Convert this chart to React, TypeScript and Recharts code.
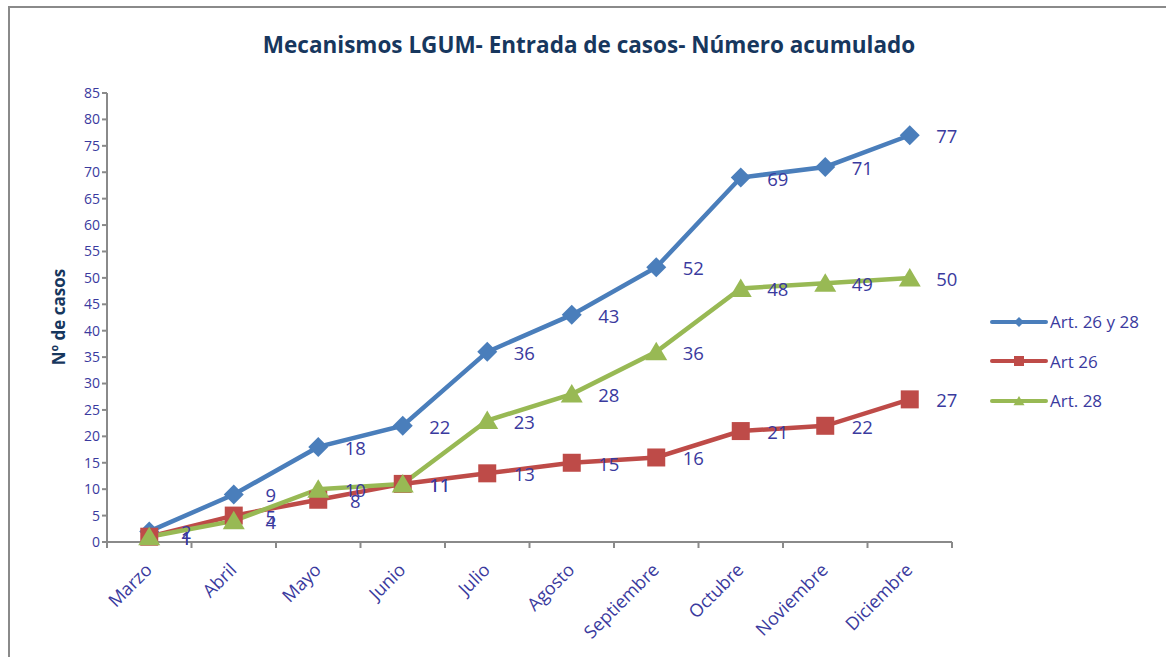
import React from 'react';
import {
  LineChart,
  Line,
  XAxis,
  YAxis,
  LabelList,
} from 'recharts';

const months = [
  'Marzo', 'Abril', 'Mayo', 'Junio', 'Julio', 'Agosto',
  'Septiembre', 'Octubre', 'Noviembre', 'Diciembre',
];
const art2628 = [2, 9, 18, 22, 36, 43, 52, 69, 71, 77];
const art26 = [1, 5, 8, 11, 13, 15, 16, 21, 22, 27];
const art28 = [1, 4, 10, 11, 23, 28, 36, 48, 49, 50];
const yTicks = [0, 5, 10, 15, 20, 25, 30, 35, 40, 45, 50, 55, 60, 65, 70, 75, 80, 85];

const data = months.map((m, i) => ({
  month: m,
  both: art2628[i],
  a26: art26[i],
  a28: art28[i],
}));

const BLUE = '#4a7ebb';
const RED = '#be4b48';
const GREEN = '#98b954';
const TEXT = '#3a3a9e';
const NAVY = '#17375e';
const AXIS = '#8a8a8a';
const FONT = '"Open Sans", sans-serif';

const W = 1166;
const H = 657;
const M = { top: 93, right: 214, left: 47, bottom: 0 };
const X_H = 115;
const Y_W = 60;
const BAND = (W - M.left - Y_W - M.right) / months.length;

function marker(kind: string, cx: number, cy: number, s: number, color: string, key?: any) {
  if (kind === 'diamond') {
    return (
      <path key={key} d={`M${cx} ${cy - s}L${cx + s} ${cy}L${cx} ${cy + s}L${cx - s} ${cy}Z`} fill={color} />
    );
  }
  if (kind === 'square') {
    return <rect key={key} x={cx - s} y={cy - s} width={s * 2} height={s * 2} fill={color} />;
  }
  return (
    <path key={key} d={`M${cx} ${cy - s}L${cx + s * 1.1} ${cy + s * 0.85}L${cx - s * 1.1} ${cy + s * 0.85}Z`} fill={color} />
  );
}

const makeDot = (kind: string, color: string, s: number) => (p: any) =>
  marker(kind, p.cx, p.cy, s, color, `${kind}-${p.index}`);

function ValueLabel(p: any) {
  return (
    <text x={p.x + 37} y={p.y + 8} textAnchor="middle" fill={TEXT} fontSize={18.5} fontFamily={FONT}>
      {p.value}
    </text>
  );
}

function MonthTick({ x, y, payload, index }: any) {
  const top = y - 8;
  const ax = x + 4;
  const ay = top + 29;
  return (
    <g>
      <line x1={x - BAND / 2} y1={top} x2={x - BAND / 2} y2={top + 6} stroke={AXIS} strokeWidth={2} />
      {index === months.length - 1 && (
        <line x1={x + BAND / 2} y1={top} x2={x + BAND / 2} y2={top + 6} stroke={AXIS} strokeWidth={2} />
      )}
      <text
        x={ax}
        y={ay}
        textAnchor="end"
        fill={TEXT}
        fontSize={18}
        fontFamily={FONT}
        transform={`rotate(-45 ${ax} ${ay})`}
      >
        {payload.value}
      </text>
    </g>
  );
}

const legendItems = [
  { name: 'Art. 26 y 28', color: BLUE, kind: 'diamond', s: 5 },
  { name: 'Art 26', color: RED, kind: 'square', s: 5 },
  { name: 'Art. 28', color: GREEN, kind: 'triangle', s: 5 },
];

function LegendBox() {
  return (
    <div style={{ position: 'absolute', left: 990, top: 302, width: 176 }}>
      {legendItems.map((it) => (
        <div key={it.name} style={{ display: 'flex', alignItems: 'center', height: 39.5 }}>
          <svg width={58} height={14}>
            <line x1={2} y1={7} x2={56} y2={7} stroke={it.color} strokeWidth={4} strokeLinecap="round" />
            {marker(it.kind, 29, 7, it.s, it.color)}
          </svg>
          <span style={{ color: TEXT, fontSize: 17, fontFamily: FONT, marginLeft: 2 }}>{it.name}</span>
        </div>
      ))}
    </div>
  );
}

export default function App() {
  return (
    <div style={{ position: 'absolute', left: 0, top: 0, width: W, height: H, overflow: 'hidden', background: '#fff' }}>
      <div
        style={{
          position: 'absolute', left: 8, top: 6, width: W, height: H,
          borderLeft: `2px solid ${AXIS}`, borderTop: `2px solid ${AXIS}`,
        }}
      />
      <div
        style={{
          position: 'absolute', left: 0, width: 1178, top: 29, textAlign: 'center',
          fontFamily: FONT, fontWeight: 700, fontSize: 22.5, color: NAVY,
        }}
      >
        Mecanismos LGUM- Entrada de casos- Número acumulado
      </div>
      <div
        style={{
          position: 'absolute', left: 58, top: 317, transform: 'translate(-50%, -50%) rotate(-90deg)',
          whiteSpace: 'nowrap', fontFamily: FONT, fontWeight: 700, fontSize: 17, color: NAVY,
        }}
      >
        Nº de casos
      </div>
      <LegendBox />
      <LineChart width={W} height={H} data={data} margin={M} style={{ position: 'absolute', left: 0, top: 0 }}>
        <XAxis
          dataKey="month"
          axisLine={{ stroke: AXIS, strokeWidth: 2 }}
          tickLine={false}
          tick={<MonthTick />}
          interval={0}
          height={X_H}
          padding={{ left: BAND / 2, right: BAND / 2 }}
        />
        <YAxis
          domain={[0, 85]}
          ticks={yTicks}
          interval={0}
          width={Y_W}
          axisLine={{ stroke: AXIS, strokeWidth: 2 }}
          tickLine={{ stroke: AXIS, strokeWidth: 2 }}
          tickSize={5}
          tick={{ fill: TEXT, fontSize: 14, fontFamily: FONT }}
        />
        <Line dataKey="both" name="Art. 26 y 28" stroke={BLUE} strokeWidth={4.5} dot={makeDot('diamond', BLUE, 10)} isAnimationActive={false}>
          <LabelList dataKey="both" content={<ValueLabel />} />
        </Line>
        <Line dataKey="a26" name="Art 26" stroke={RED} strokeWidth={4.5} dot={makeDot('square', RED, 9)} isAnimationActive={false}>
          <LabelList dataKey="a26" content={<ValueLabel />} />
        </Line>
        <Line dataKey="a28" name="Art. 28" stroke={GREEN} strokeWidth={4.5} dot={makeDot('triangle', GREEN, 10)} isAnimationActive={false}>
          <LabelList dataKey="a28" content={<ValueLabel />} />
        </Line>
      </LineChart>
    </div>
  );
}
